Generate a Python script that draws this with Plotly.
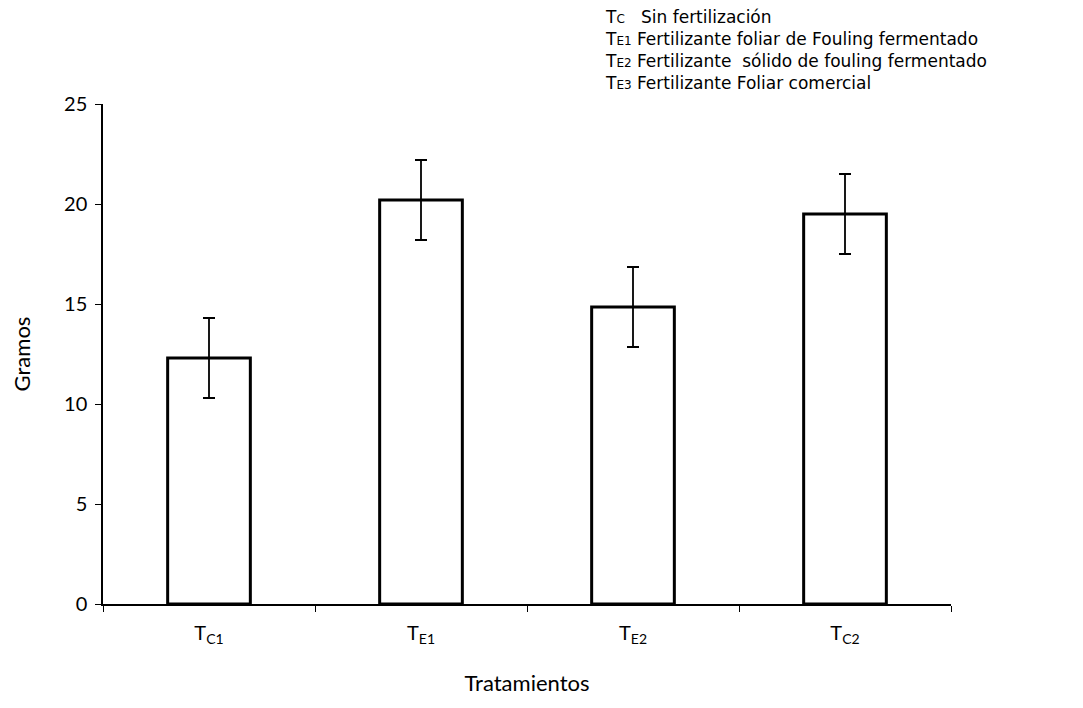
import plotly.graph_objects as go

categories = ["T<sub>C1</sub>", "T<sub>E1</sub>", "T<sub>E2</sub>", "T<sub>C2</sub>"]
means = [12.3, 20.2, 14.85, 19.5]
errors = [2.0, 2.0, 2.0, 2.0]
y_ticks = [0, 5, 10, 15, 20, 25]
legend_codes = ["C", "E1", "E2", "E3"]
legend_texts = [
    "Sin fertilización",
    "Fertilizante foliar de Fouling fermentado",
    "Fertilizante  sólido de fouling fermentado",
    "Fertilizante Foliar comercial",
]

# figure geometry (page has an 8px body margin)
W, H = 1075, 700
L, R, T, B = 95, 132, 96, 104
pw, ph = W - L - R, H - T - B

fig = go.Figure()
fig.add_trace(go.Bar(
    x=categories, y=means,
    width=0.39,
    marker=dict(color="white", line=dict(color="black", width=3)),
    error_y=dict(type="data", array=errors, visible=True, color="black",
                 thickness=1.8, width=6),
    showlegend=False,
))

def px_to_paper(xs, ys):
    xf, yf = xs - 8, ys - 8
    return (xf - L) / pw, (H - B - yf) / ph

lines = []
for code, txt in zip(legend_codes, legend_texts):
    gap = "&nbsp;&nbsp;&nbsp;" if len(code) == 1 else "&nbsp;"
    lines.append(f'T<span style="font-size:12px">{code}</span>{gap}{txt}')

xp, yp = px_to_paper(603, 5)
fig.add_annotation(
    x=xp, y=yp, xref="paper", yref="paper", showarrow=False,
    text="<br>".join(lines),
    align="left", xanchor="left", yanchor="top",
    font=dict(family="DejaVu Sans", size=17, color="black"),
)

fig.update_layout(
    width=W, height=H,
    margin=dict(l=L, r=R, t=T, b=B, autoexpand=False),
    paper_bgcolor="white", plot_bgcolor="white",
    font=dict(family="Lato, Open Sans", size=20, color="black"),
    xaxis=dict(
        showline=True, linecolor="black", linewidth=1.5,
        ticks="outside", tickson="boundaries", ticklen=6, tickcolor="black",
        showgrid=False, tickfont=dict(size=20), ticklabelstandoff=10,
        title=dict(text="Tratamientos", font=dict(size=22), standoff=30),
    ),
    yaxis=dict(
        range=[0, 25], tickvals=y_ticks,
        showline=True, linecolor="black", linewidth=1.5,
        ticks="outside", ticklen=6, tickcolor="black",
        showgrid=False, zeroline=False, tickfont=dict(size=20),
        ticklabelstandoff=4,
        title=dict(text="Gramos", font=dict(size=22), standoff=28),
    ),
    bargap=0.61,
)

fig.write_html("out.html")
